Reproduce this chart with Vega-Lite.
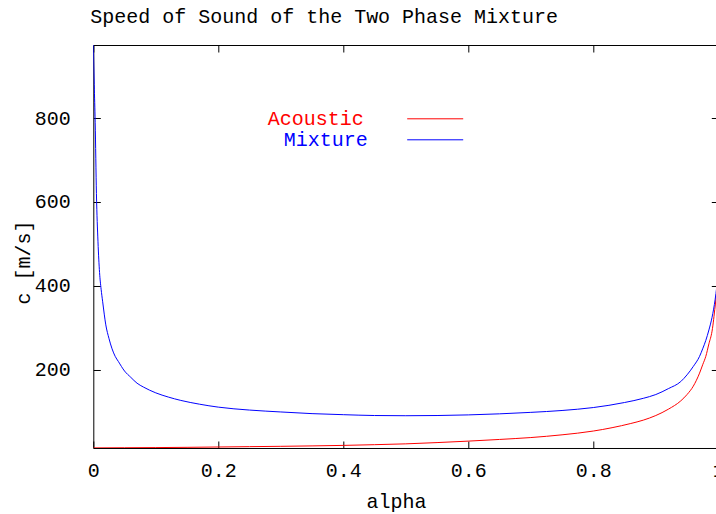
{
  "$schema": "https://vega.github.io/schema/vega-lite/v6.json",
  "width": 625,
  "height": 403,
  "autosize": {"type": "none"},
  "padding": {"left": 93.3, "top": 45, "right": 0, "bottom": 66},
  "background": "white",
  "title": {
    "text": "Speed of Sound of the Two Phase Mixture",
    "anchor": "start",
    "frame": "group",
    "font": "Liberation Mono",
    "fontSize": 20,
    "fontWeight": "normal",
    "color": "black",
    "baseline": "alphabetic",
    "offset": 19,
    "dx": -3,
    "dy": 20
  },
  "config": {
    "font": "Liberation Mono",
    "view": {"stroke": "black", "strokeWidth": 1},
    "axis": {
      "grid": false,
      "domain": false,
      "domainColor": "black",
      "tickColor": "black",
      "tickWidth": 1,
      "labelColor": "black",
      "titleColor": "black",
      "labelFont": "Liberation Mono",
      "titleFont": "Liberation Mono",
      "labelFontSize": 20,
      "titleFontSize": 20,
      "titleFontWeight": "normal"
    },
    "legend": {
      "orient": "none",
      "title": null,
      "symbolType": "M-1,0H1",
      "symbolSize": 3136,
      "symbolStrokeWidth": 1,
      "symbolFillColor": "transparent",
      "labelFont": "Liberation Mono",
      "labelFontSize": 20,
      "labelAlign": "right",
      "labelLimit": 0,
      "padding": 0
    },
    "line": {"strokeWidth": 1}
  },
  "data": {
    "values": [
      {"alpha": 0, "c": 974, "series": "Mixture"},
      {"alpha": 0.0015, "c": 880, "series": "Mixture"},
      {"alpha": 0.003, "c": 790, "series": "Mixture"},
      {"alpha": 0.005, "c": 620, "series": "Mixture"},
      {"alpha": 0.0075, "c": 505, "series": "Mixture"},
      {"alpha": 0.01, "c": 432, "series": "Mixture"},
      {"alpha": 0.0125, "c": 392, "series": "Mixture"},
      {"alpha": 0.015, "c": 362, "series": "Mixture"},
      {"alpha": 0.02, "c": 307, "series": "Mixture"},
      {"alpha": 0.025, "c": 275, "series": "Mixture"},
      {"alpha": 0.03, "c": 250, "series": "Mixture"},
      {"alpha": 0.035, "c": 232, "series": "Mixture"},
      {"alpha": 0.04, "c": 220, "series": "Mixture"},
      {"alpha": 0.05, "c": 197, "series": "Mixture"},
      {"alpha": 0.06, "c": 182, "series": "Mixture"},
      {"alpha": 0.07, "c": 168, "series": "Mixture"},
      {"alpha": 0.08, "c": 159, "series": "Mixture"},
      {"alpha": 0.1, "c": 145, "series": "Mixture"},
      {"alpha": 0.12, "c": 135, "series": "Mixture"},
      {"alpha": 0.14, "c": 127, "series": "Mixture"},
      {"alpha": 0.17, "c": 118, "series": "Mixture"},
      {"alpha": 0.2, "c": 111, "series": "Mixture"},
      {"alpha": 0.25, "c": 104, "series": "Mixture"},
      {"alpha": 0.3, "c": 99.5, "series": "Mixture"},
      {"alpha": 0.35, "c": 95.5, "series": "Mixture"},
      {"alpha": 0.4, "c": 93, "series": "Mixture"},
      {"alpha": 0.45, "c": 91, "series": "Mixture"},
      {"alpha": 0.5, "c": 90.5, "series": "Mixture"},
      {"alpha": 0.55, "c": 91, "series": "Mixture"},
      {"alpha": 0.6, "c": 92.5, "series": "Mixture"},
      {"alpha": 0.65, "c": 95, "series": "Mixture"},
      {"alpha": 0.7, "c": 98.5, "series": "Mixture"},
      {"alpha": 0.75, "c": 103, "series": "Mixture"},
      {"alpha": 0.8, "c": 110, "series": "Mixture"},
      {"alpha": 0.85, "c": 122, "series": "Mixture"},
      {"alpha": 0.88, "c": 132, "series": "Mixture"},
      {"alpha": 0.9, "c": 141, "series": "Mixture"},
      {"alpha": 0.92, "c": 155, "series": "Mixture"},
      {"alpha": 0.94, "c": 172, "series": "Mixture"},
      {"alpha": 0.95, "c": 188, "series": "Mixture"},
      {"alpha": 0.96, "c": 208, "series": "Mixture"},
      {"alpha": 0.97, "c": 232, "series": "Mixture"},
      {"alpha": 0.975, "c": 250, "series": "Mixture"},
      {"alpha": 0.98, "c": 270, "series": "Mixture"},
      {"alpha": 0.985, "c": 295, "series": "Mixture"},
      {"alpha": 0.99, "c": 325, "series": "Mixture"},
      {"alpha": 0.995, "c": 368, "series": "Mixture"},
      {"alpha": 1.0, "c": 430, "series": "Mixture"},
      {"alpha": 0, "c": 13.8, "series": "Acoustic"},
      {"alpha": 0.05, "c": 14.2, "series": "Acoustic"},
      {"alpha": 0.1, "c": 14.6, "series": "Acoustic"},
      {"alpha": 0.15, "c": 15.2, "series": "Acoustic"},
      {"alpha": 0.2, "c": 16, "series": "Acoustic"},
      {"alpha": 0.25, "c": 16.8, "series": "Acoustic"},
      {"alpha": 0.3, "c": 17.6, "series": "Acoustic"},
      {"alpha": 0.35, "c": 18.6, "series": "Acoustic"},
      {"alpha": 0.4, "c": 19.8, "series": "Acoustic"},
      {"alpha": 0.45, "c": 21.5, "series": "Acoustic"},
      {"alpha": 0.5, "c": 23.5, "series": "Acoustic"},
      {"alpha": 0.55, "c": 26.5, "series": "Acoustic"},
      {"alpha": 0.6, "c": 30, "series": "Acoustic"},
      {"alpha": 0.65, "c": 34, "series": "Acoustic"},
      {"alpha": 0.7, "c": 38.5, "series": "Acoustic"},
      {"alpha": 0.75, "c": 45, "series": "Acoustic"},
      {"alpha": 0.8, "c": 54, "series": "Acoustic"},
      {"alpha": 0.83, "c": 62, "series": "Acoustic"},
      {"alpha": 0.86, "c": 72, "series": "Acoustic"},
      {"alpha": 0.88, "c": 80, "series": "Acoustic"},
      {"alpha": 0.9, "c": 91, "series": "Acoustic"},
      {"alpha": 0.92, "c": 106, "series": "Acoustic"},
      {"alpha": 0.94, "c": 126, "series": "Acoustic"},
      {"alpha": 0.95, "c": 141, "series": "Acoustic"},
      {"alpha": 0.96, "c": 161, "series": "Acoustic"},
      {"alpha": 0.97, "c": 192, "series": "Acoustic"},
      {"alpha": 0.975, "c": 212, "series": "Acoustic"},
      {"alpha": 0.98, "c": 232, "series": "Acoustic"},
      {"alpha": 0.985, "c": 262, "series": "Acoustic"},
      {"alpha": 0.99, "c": 292, "series": "Acoustic"},
      {"alpha": 0.995, "c": 352, "series": "Acoustic"},
      {"alpha": 1.0, "c": 425, "series": "Acoustic"}
    ]
  },
  "encoding": {
    "x": {
      "field": "alpha", "type": "quantitative",
      "scale": {"domain": [0, 1], "nice": false, "zero": false}
    },
    "y": {
      "field": "c", "type": "quantitative",
      "scale": {"domain": [13.6, 974], "nice": false, "zero": false}
    }
  },
  "layer": [
    {
      "transform": [{"filter": "datum.series === 'Acoustic'"}],
      "mark": {"type": "line", "clip": true, "strokeWidth": 1, "interpolate": "monotone"},
      "encoding": {
        "x": {
          "field": "alpha", "type": "quantitative",
          "axis": {
            "orient": "bottom", "title": "alpha", "values": [0, 0.2, 0.4, 0.6, 0.8, 1],
            "format": "~g", "ticks": false, "labelPadding": 13, "labelDx": -5,
            "labelFlush": false, "labelOverlap": false,
            "titleX": 302.7, "titleY": 59.7, "titleBaseline": "alphabetic", "titleAlign": "center"
          }
        },
        "y": {
          "field": "c", "type": "quantitative",
          "axis": {
            "orient": "left", "title": "c [m/s]", "values": [200, 400, 600, 800],
            "ticks": false, "labelPadding": 23, "labelFlush": false, "labelOverlap": false,
            "titleX": -69.3, "titleY": 217, "titleAngle": 270, "titleAlign": "center", "titleBaseline": "middle"
          }
        },
        "color": {
          "field": "series", "type": "nominal",
          "scale": {"domain": ["Acoustic"], "range": ["#ff0000"]},
          "legend": {
            "legendX": 313.4, "legendY": 45.3,
            "symbolStrokeColor": "#ff0000", "labelColor": "#ff0000", "labelOffset": -100
          }
        }
      }
    },
    {
      "transform": [{"filter": "datum.series === 'Mixture'"}],
      "mark": {"type": "line", "clip": true, "strokeWidth": 1, "interpolate": "monotone"},
      "encoding": {
        "x": {
          "field": "alpha", "type": "quantitative",
          "axis": {"orient": "bottom", "title": null, "labels": false, "ticks": true, "tickSize": -7, "values": [0, 0.2, 0.4, 0.6, 0.8, 1]}
        },
        "y": {
          "field": "c", "type": "quantitative",
          "axis": {"orient": "left", "title": null, "labels": false, "ticks": true, "tickSize": -7, "values": [200, 400, 600, 800]}
        },
        "stroke": {
          "field": "series", "type": "nominal",
          "scale": {"domain": ["Mixture"], "range": ["#0000ff"]},
          "legend": {
            "legendX": 313.4, "legendY": 66.3,
            "symbolStrokeColor": "#0000ff", "labelColor": "#0000ff", "labelOffset": -96
          }
        }
      }
    },
    {
      "mark": {"type": "point", "opacity": 0},
      "encoding": {
        "x": {"field": "alpha", "type": "quantitative",
          "axis": {"orient": "top", "title": null, "labels": false, "ticks": true, "tickSize": -7, "values": [0, 0.2, 0.4, 0.6, 0.8, 1]}},
        "y": {"field": "c", "type": "quantitative",
          "axis": {"orient": "right", "title": null, "labels": false, "ticks": true, "tickSize": -7, "values": [200, 400, 600, 800]}}
      }
    }
  ],
  "resolve": {"axis": {"x": "independent", "y": "independent"}}
}
